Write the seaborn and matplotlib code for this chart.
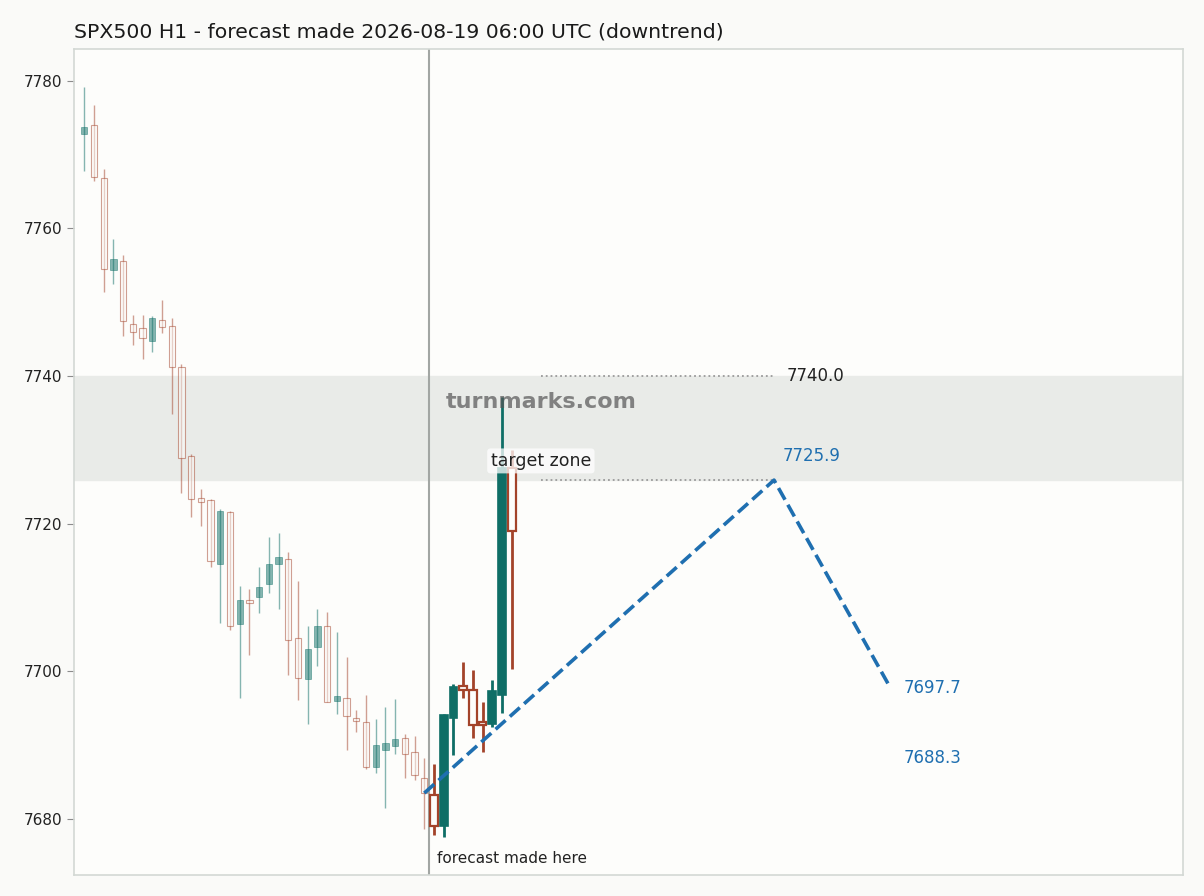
import numpy as np
import pandas as pd
import seaborn as sns
import matplotlib
matplotlib.use("Agg")
import matplotlib.pyplot as plt

# candle data (H1 bars), index 0..44; bars after 35 come after the forecast time
opens = [7772.8, 7774.0, 7766.8, 7754.3, 7755.6, 7747.0, 7746.5, 7744.8, 7747.6, 7746.8,
         7741.2, 7729.1, 7723.5, 7723.2, 7714.6, 7721.6, 7706.4, 7709.5, 7710.1, 7711.8,
         7714.5, 7715.2, 7704.5, 7698.9, 7703.3, 7706.2, 7696.0, 7696.4, 7693.6, 7693.1,
         7687.0, 7689.4, 7689.9, 7690.9, 7689.1, 7685.6,
         7683.3, 7679.0, 7693.7, 7698.0, 7697.5, 7693.1, 7692.9, 7696.8, 7727.6]
highs = [7779.1, 7776.7, 7768.1, 7758.5, 7756.4, 7748.3, 7748.3, 7748.1, 7750.3, 7747.8,
         7741.6, 7729.4, 7724.7, 7723.3, 7722.0, 7721.7, 7711.6, 7711.1, 7714.1, 7718.2,
         7718.7, 7716.1, 7712.2, 7706.1, 7708.5, 7708.0, 7705.3, 7701.9, 7694.7, 7696.8,
         7693.6, 7695.1, 7696.2, 7691.5, 7691.2, 7688.2,
         7687.5, 7694.2, 7698.3, 7701.3, 7700.2, 7695.8, 7698.8, 7737.1, 7730.0]
lows = [7767.8, 7766.4, 7751.4, 7752.5, 7745.4, 7744.2, 7742.3, 7743.2, 7745.8, 7734.9,
        7724.1, 7720.9, 7719.7, 7714.1, 7706.5, 7705.6, 7696.4, 7702.2, 7707.9, 7710.6,
        7708.5, 7699.5, 7696.1, 7692.9, 7700.7, 7695.8, 7694.2, 7689.4, 7691.8, 7686.7,
        7686.2, 7681.5, 7688.8, 7685.5, 7685.3, 7678.7,
        7677.8, 7677.6, 7688.7, 7696.4, 7691.0, 7689.0, 7692.5, 7694.3, 7700.3]
closes = [7773.7, 7766.9, 7754.5, 7755.9, 7747.4, 7745.9, 7745.1, 7747.9, 7746.6, 7741.2,
          7728.9, 7723.3, 7723.0, 7714.9, 7721.7, 7706.1, 7709.7, 7709.3, 7711.4, 7714.6,
          7715.5, 7704.3, 7699.1, 7703.0, 7706.2, 7695.8, 7696.7, 7693.9, 7693.3, 7687.0,
          7690.0, 7690.3, 7690.8, 7688.8, 7685.9, 7683.5,
          7679.0, 7694.1, 7697.9, 7697.5, 7692.7, 7692.7, 7697.3, 7727.5, 7719.0]
n_history = 36  # bars known when the forecast was made

# forecast path
path_x = [35, 71, 83]
path_y = [7683.5, 7725.9, 7697.7]
zone_low, zone_high = 7725.9, 7740.0
alt_target = 7688.3

df = pd.DataFrame({"open": opens, "high": highs, "low": lows, "close": closes})
df["x"] = np.arange(len(df))
df["up"] = df["close"] >= df["open"]
df["after"] = df["x"] >= n_history

sns.set_style("white")
plt.rcParams.update({
    "figure.facecolor": "#fafaf8",
    "axes.facecolor": "#fdfdfb",
    "axes.edgecolor": "#d3d8d4",
    "font.family": ["DejaVu Sans"],
})

fig, ax = plt.subplots(figsize=(12.04, 8.96), dpi=100)
fig.subplots_adjust(left=0.0615, right=0.9826, bottom=0.0234, top=0.9453)

teal = "#0f6e66"
rust = "#a3432a"
bg = "#fdfdfb"

# target zone band
ax.axhspan(zone_low, zone_high, color="#e9ebe8", zorder=0)

# candles: pale before forecast, solid after
for after, alpha, lw, width in [(False, 0.5, 1.0, 0.65), (True, 1.0, 2.0, 0.8)]:
    sub = df[df["after"] == after]
    for up, col in [(True, teal), (False, rust)]:
        s = sub[sub["up"] == up]
        ax.vlines(s["x"], s["low"], s["high"], color=col, lw=lw, alpha=alpha, zorder=2)
        bottom = s[["open", "close"]].min(axis=1)
        height = (s["close"] - s["open"]).abs().clip(lower=0.35)
        if up:
            ax.bar(s["x"], height, bottom=bottom, width=width, color=col,
                   edgecolor=col, lw=lw * 0.6, alpha=alpha, zorder=3)
        else:
            ax.bar(s["x"], height, bottom=bottom, width=width, color=bg,
                   edgecolor=col, lw=lw * 0.8, alpha=alpha, zorder=3)

# forecast made here
ax.axvline(n_history - 0.5, color="#a2a6a3", lw=1.5, zorder=1)
ax.text(n_history + 0.3, 7674.6, "forecast made here", fontsize=11, color="#222222",
        ha="left", va="center")

# zone guide lines
ax.hlines([zone_high, zone_low], 47, path_x[1], colors="#9a9a9a", linestyles=":", lw=1.3, zorder=1)

# forecast path
path = pd.DataFrame({"x": path_x, "y": path_y})
sns.lineplot(data=path, x="x", y="y", ax=ax, color="#1f6fb0", lw=2.6,
             linestyle="--", zorder=5)

# labels
ax.text(72.3, zone_high, f"{zone_high:.1f}", fontsize=12, color="#222222", va="center", ha="left")
ax.text(71.9, 7729.2, f"{path_y[1]:.1f}", fontsize=12, color="#1f6fb0", va="center", ha="left")
ax.text(84.3, path_y[2], f"{path_y[2]:.1f}", fontsize=12, color="#1f6fb0", va="center", ha="left")
ax.text(84.3, alt_target, f"{alt_target:.1f}", fontsize=12, color="#1f6fb0", va="center", ha="left")
ax.text(47, 7728.5, "target zone", fontsize=12.5, color="#222222", ha="center", va="center",
        zorder=6, bbox=dict(boxstyle="round,pad=0.2", fc="white", ec="none", alpha=0.75))
ax.text(47, 7736.5, "turnmarks.com", fontsize=16, fontweight="bold", color="#555555",
        alpha=0.7, ha="center", va="center", zorder=6)

ax.set_xlim(-1.05, 113.1)
ax.set_ylim(7672.4, 7784.3)
ax.set_xticks([])
ax.set_yticks(np.arange(7680, 7781, 20))
ax.tick_params(axis="y", length=5, color="#8c8c8c", labelsize=11, labelcolor="#222222", left=True)
ax.set_xlabel("")
ax.set_ylabel("")
for sp in ax.spines.values():
    sp.set_linewidth(1.2)
ax.set_title("SPX500 H1 - forecast made 2026-08-19 06:00 UTC (downtrend)", loc="left",
             fontsize=14.7, color="#1a1a1a", pad=8)

fig.savefig("out.png", dpi=100, facecolor=fig.get_facecolor())
